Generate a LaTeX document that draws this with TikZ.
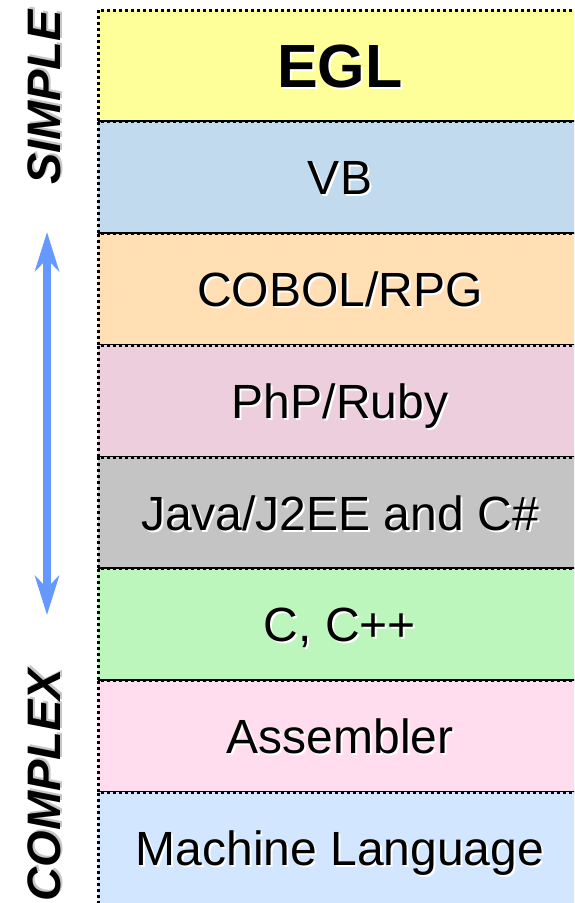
\documentclass[tikz,border=0pt]{standalone}
\usepackage{fontspec}
\setmainfont{Liberation Sans}
\usetikzlibrary{arrows.meta}

\definecolor{eglfill}{HTML}{FFFF99}
\definecolor{vbfill}{HTML}{C2DAEE}
\definecolor{cobolfill}{HTML}{FFDFB3}
\definecolor{phpfill}{HTML}{ECCEDD}
\definecolor{javafill}{HTML}{C4C4C4}
\definecolor{cfill}{HTML}{BCF6BC}
\definecolor{asmfill}{HTML}{FFDDEE}
\definecolor{machfill}{HTML}{D2E6FF}
\definecolor{arrowblue}{HTML}{6699FF}

% text with a light offset shadow behind it
\newcommand\shtext[2][white]{\rlap{\kern2pt\raisebox{-2pt}{\textcolor{#1}{#2}}}#2}

\begin{document}
\begin{tikzpicture}[x=1pt,y=-1pt,
  band/.style={draw=black, line width=3pt, dash pattern=on 3pt off 3pt,
    minimum width=520pt, minimum height=111.75pt, anchor=north west,
    inner sep=0pt, outer sep=0pt},
  lbl/.style={font=\fontsize{48}{48}\selectfont, anchor=base, inner sep=0pt},
  side/.style={font=\fontsize{47}{47}\selectfont\bfseries\itshape, rotate=90,
    inner sep=0pt},
  updown/.style={line width=8pt, draw=arrowblue,
    {Stealth[length=39pt,width=24pt,inset=12pt]}-{Stealth[length=39pt,width=24pt,inset=12pt]}}
]
\useasboundingbox (0,0) rectangle (574,903);
\clip (0,0) rectangle (574,903);

% stacked language bands
\node[band, fill=eglfill]   (egl)   at (98,10)      {};
\node[band, fill=vbfill]    (vb)    at (98,121.75)  {};
\node[band, fill=cobolfill] (cobol) at (98,233.5)   {};
\node[band, fill=phpfill]   (php)   at (98,345.25)  {};
\node[band, fill=javafill]  (java)  at (98,457)     {};
\node[band, fill=cfill]     (clang) at (98,568.75)  {};
\node[band, fill=asmfill]   (asm)   at (98,680.5)   {};
\node[band, fill=machfill]  (mach)  at (98,792.25)  {};

% band labels
\node[lbl, font=\fontsize{61}{61}\selectfont\bfseries] (tegl) at (340,87.7) {\shtext{EGL}};
\node[lbl] (tvb)    at (340,194.8) {\shtext{VB}};
\node[lbl] (tcobol) at (340,306.6) {\shtext{COBOL/RPG}};
\node[lbl] (tphp)   at (340,418.3) {\shtext{PhP/Ruby}};
\node[lbl] (tjava)  at (340,530.1) {\shtext{Java/J2EE and C\#}};
\node[lbl] (tc)     at (340,641.8) {\shtext{C, C++}};
\node[lbl] (tasm)   at (340,753.6) {\shtext{Assembler}};
\node[lbl] (tmach)  at (340,865.3) {\shtext{Machine Language}};

% side scale
\node[side] (simple)  at (45.5,97.5) {\shtext[gray!45]{SIMPLE}};
\node[side] (complex) at (45.5,785)  {\shtext[gray!45]{COMPLEX}};
\coordinate (uptip) at (47,232);
\coordinate (dntip) at (47,615);
\draw[updown] (dntip) -- (uptip);
\end{tikzpicture}
\end{document}
